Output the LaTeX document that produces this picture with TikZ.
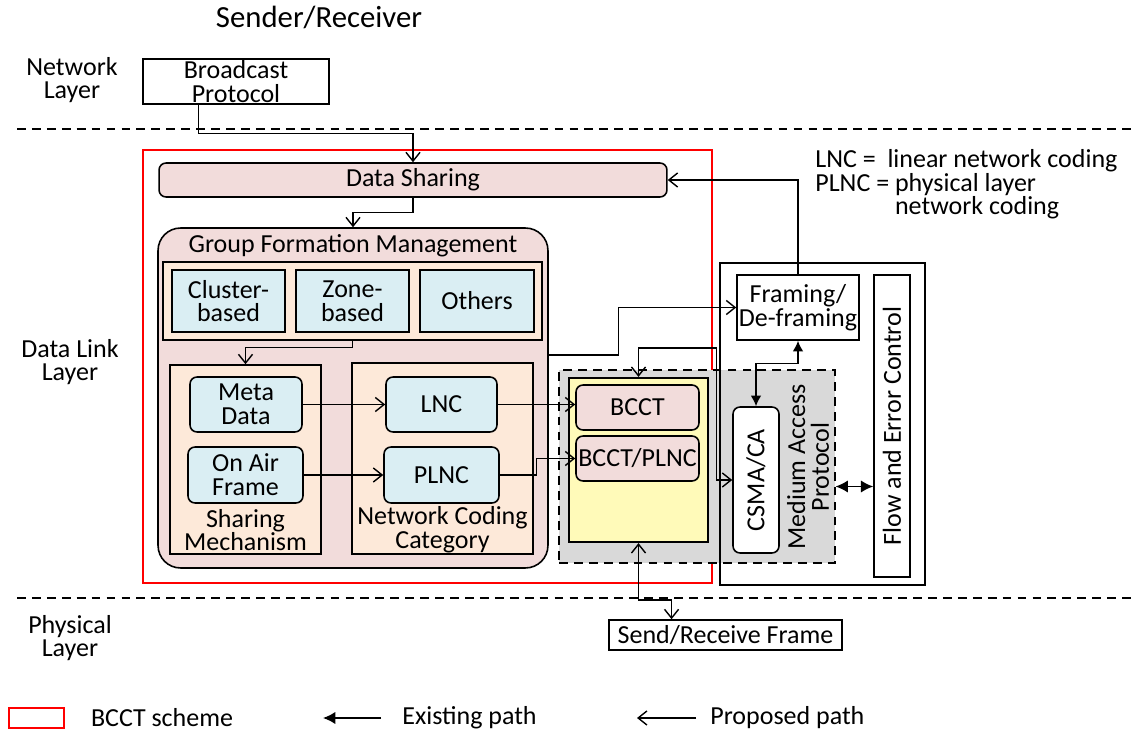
\documentclass[tikz,border=0pt]{standalone}
\usepackage{fontspec}
\setmainfont{Carlito}
\usetikzlibrary{arrows.meta, positioning, calc}
\definecolor{pinkbox}{RGB}{242,220,219}
\definecolor{peach}{RGB}{253,233,217}
\definecolor{iceblue}{RGB}{218,238,243}
\definecolor{paleyellow}{RGB}{255,250,185}
\definecolor{macgray}{RGB}{217,217,217}

\begin{document}
\begin{tikzpicture}[x=0.02cm, y=-0.02cm,
  font=\fontsize{14.8}{13.5}\selectfont,
  box/.style={draw, line width=0.9pt, inner sep=0pt, align=center},
  rbox/.style={box, rounded corners=0.14cm},
  txt/.style={inner sep=0pt, align=center},
  layer/.style={line width=0.7pt, dash pattern=on 5pt off 3.5pt},
  prop/.style={line width=0.8pt, >={Straight Barb[length=5pt,width=8pt]}, ->},
  exist/.style={line width=0.8pt, >={Latex[length=6pt,width=6pt]}, ->}]
  \useasboundingbox (0,0) rectangle (1137,733);
  % Layers
  \node[txt, font=\fontsize{17.5}{19}\selectfont] (title) at (319,17) {Sender/Receiver};
  \node[txt] (netl) at (72,80) {Network\\Layer};
  \node[txt] (dll) at (70,362) {Data Link\\Layer};
  \node[txt] (phyl) at (70,638) {Physical\\Layer};
  \draw[layer] (17,129) -- (1137,129);
  \draw[layer] (17,598) -- (1137,598);
  \node[box, minimum width=3.72cm, minimum height=0.9cm] (bp) at (236,81.5) {Broadcast\\Protocol};
  % BCCT scheme
  \draw[red, line width=0.8pt] (143,150) rectangle (712,583);
  \node[rbox, fill=pinkbox, minimum width=10.16cm, minimum height=0.68cm] (ds) at (413,180) {Data Sharing};
  \node[box, fill=pinkbox, rounded corners=0.45cm, minimum width=7.8cm, minimum height=6.8cm] (gfm) at (353,398) {};
  \node[txt] (gfmt) at (353,246) {Group Formation Management};
  \node[box, fill=peach, minimum width=7.58cm, minimum height=1.56cm] (gtype) at (352.5,301) {};
  \node[box, fill=iceblue, minimum width=2.26cm, minimum height=1.24cm] (cb) at (228.5,301) {Cluster-\\based};
  \node[box, fill=iceblue, minimum width=2.26cm, minimum height=1.24cm] (zb) at (352.5,301) {Zone-\\based};
  \node[box, fill=iceblue, minimum width=2.28cm, minimum height=1.24cm] (ot) at (477,301) {Others};
  \node[box, fill=peach, minimum width=3.02cm, minimum height=3.78cm] (sm) at (245.5,459.5) {};
  \node[txt] (smt) at (245.5,530) {Sharing\\Mechanism};
  \node[box, fill=peach, minimum width=3.62cm, minimum height=3.82cm] (ncc) at (442.5,458.5) {};
  \node[txt] (ncct) at (442.5,530) {Network Coding\\Category};
  \node[rbox, fill=iceblue, minimum width=2.24cm, minimum height=1.1cm] (meta) at (246,404.5) {Meta\\Data};
  \node[rbox, fill=iceblue, minimum width=2.3cm, minimum height=1.12cm] (air) at (245.5,475) {On Air\\Frame};
  \node[rbox, fill=iceblue, minimum width=2.22cm, minimum height=1.1cm] (lnc) at (441.5,404.5) {LNC};
  \node[rbox, fill=iceblue, minimum width=2.3cm, minimum height=1.12cm] (plnc) at (441.5,475) {PLNC};
  % Medium access
  \node[draw, line width=0.8pt, layer, fill=macgray, minimum width=5.52cm, minimum height=3.86cm] (map) at (697,466.5) {};
  \node[box, fill=none, minimum width=4.1cm, minimum height=6.44cm] (dlbox) at (822.5,424) {};
  \node[box, line width=1.3pt, fill=paleyellow, minimum width=2.78cm, minimum height=3.28cm] (yel) at (638.5,460) {};
  \node[rbox, fill=pinkbox, minimum width=2.46cm, minimum height=0.9cm] (bcct) at (637.5,407.5) {BCCT};
  \node[rbox, fill=pinkbox, minimum width=2.46cm, minimum height=0.9cm] (bp2) at (637.5,458.5) {BCCT/PLNC};
  \node[box, fill=white, minimum width=2.44cm, minimum height=1.3cm] (fr) at (798,307.5) {Framing/\\De-framing};
  \node[box, fill=white, minimum width=0.72cm, minimum height=6.04cm] (fec) at (892,426) {\rotatebox{90}{Flow and Error Control}};
  \node[rbox, fill=white, minimum width=0.92cm, minimum height=2.92cm] (csma) at (756,480) {\rotatebox{90}{CSMA/CA}};
  \node[txt, rotate=90] (mapt) at (808,467) {Medium Access\\Protocol};
  \node[box, minimum width=4.66cm, minimum height=0.6cm] (sr) at (725.5,635) {Send/Receive Frame};
  % Abbreviations
  \node[txt, anchor=north west, align=left] (abbr) at (815,149) {LNC = ~linear network coding\\PLNC = physical layer\\\phantom{PLNC = }network coding};
  % Paths
  \draw[prop] ($(bp.south west)!0.3!(bp.south east)$) -- ++(0,29) -| (ds.north);
  \draw[prop] (ds.south) -- ++(0,15) -| (gfm.north);
  \draw[prop] (gtype.south) -- ++(0,7) -| (sm.north);
  \draw[prop] (meta.east) -- (lnc.west);
  \draw[prop] (air.east) -- (plnc.west);
  \draw[prop] (lnc.east) -- (lnc.east -| bcct.west);
  \draw[prop] (plnc.east) -- ++(37,0) |- (bp2.west);
  \draw[prop] ($(gfm.east)+(0,-43)$) -- ++(70,0) |- (fr.west);
  \draw[prop] (fr.north) |- (ds.east);
  \draw[prop, <->] (yel.north) -- ++(0,-29) -| ($(csma.west)+(-16,0)$) -- (csma.west);
  \draw[exist, <->] (fr.south) -- ++(0,23) -| (csma.north);
  \draw[exist, <->, >={Latex[length=7pt,width=7pt]}] ($(map.east)+(0,20)$) coordinate (mx) -- (mx -| fec.west);
  \draw[prop, <->] (yel.south) -- ++(0,57) -| ($(sr.north west)!0.27!(sr.north east)$);
  % Legend
  \node[draw=red, line width=0.8pt, minimum width=1.1cm, minimum height=0.4cm] (lgbox) at (36.5,718) {};
  \node[txt, right=0.52cm of lgbox] (lgtext) {BCCT scheme};
  \node[txt, anchor=west] (lgex) at (402,718) {Existing path};
  \draw[exist, >={Latex[length=7pt,width=7pt]}] ([xshift=-0.42cm]lgex.west) -- ++(-58,0);
  \node[txt, anchor=west] (lgpr) at (710,718) {Proposed path};
  \draw[prop] ([xshift=-0.28cm]lgpr.west) -- ++(-59,0);
\end{tikzpicture}
\end{document}
